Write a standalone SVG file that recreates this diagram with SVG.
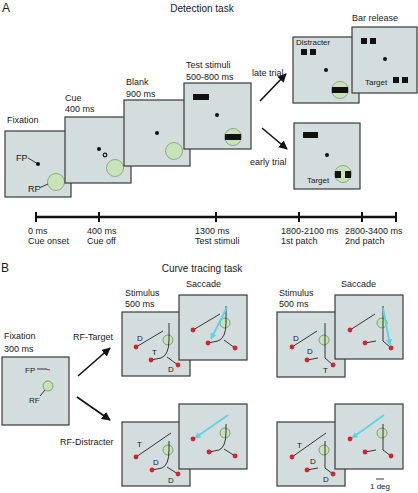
<svg xmlns="http://www.w3.org/2000/svg" width="418" height="493" viewBox="0 0 418 493">
<defs>
<style>
text{font-family:"Liberation Sans",Arial,sans-serif;fill:#1a1a1a}
.lab{font-size:9px}
.sm{font-size:8px}
.ttl{font-size:10px}
.big{font-size:12px}
.pan{fill:#d4dddd;stroke:#3a3a3a;stroke-width:1.2}
.rf{fill:#c9e3b9;stroke:#6f8f6f;stroke-width:0.7}
.rfs{fill:#c9e3b9;stroke:#5f7f5f;stroke-width:0.7}
.blk{fill:#111}
.ln{stroke:#222;stroke-width:0.9;fill:none}
.red{fill:#d62231}
.arr{stroke:#111;stroke-width:1.6;fill:none;marker-end:url(#ah)}
.cy{stroke:#5ad4e4;stroke-width:1.8;fill:none;marker-end:url(#ch)}
.tl{stroke:#111;stroke-width:2.5;fill:none}
.tk{stroke:#111;stroke-width:2;fill:none}
</style>
<marker id="ah" viewBox="0 0 10 10" refX="9" refY="5" markerWidth="5.5" markerHeight="5.5" orient="auto" markerUnits="strokeWidth"><path d="M0,0 L10,5 L0,10 z" fill="#111"/></marker>
<marker id="ch" viewBox="0 0 10 10" refX="9" refY="5" markerWidth="3.5" markerHeight="3.5" orient="auto" markerUnits="strokeWidth"><path d="M0,0 L10,5 L0,10 z" fill="#5ad4e4"/></marker>
</defs>

<text class="big" x="2" y="12">A</text>
<text class="ttl" x="202" y="12" text-anchor="middle">Detection task</text>

<g id="a-fixation">
<text class="lab" x="7" y="123">Fixation</text>
<rect class="pan" x="5" y="131" width="66" height="66"/>
<text class="lab" x="16" y="161">FP</text>
<line class="ln" x1="28" y1="158" x2="38" y2="164"/>
<circle class="blk" cx="38" cy="164" r="2"/>
<circle class="rf" cx="56" cy="182" r="8.5"/>
<text class="lab" x="28" y="192">RF</text>
<line class="ln" x1="39" y1="188" x2="48" y2="184"/>
</g>

<g id="a-cue">
<text class="lab" x="65" y="101">Cue</text>
<text class="lab" x="65" y="112">400 ms</text>
<rect class="pan" x="65" y="117" width="66" height="66"/>
<circle class="blk" cx="99" cy="149" r="2"/>
<circle cx="105" cy="155" r="1.8" fill="none" stroke="#111" stroke-width="1.2"/>
<circle class="rf" cx="115" cy="168" r="8.5"/>
</g>

<g id="a-blank">
<text class="lab" x="126" y="85">Blank</text>
<text class="lab" x="126" y="97">900 ms</text>
<rect class="pan" x="124" y="100" width="66" height="66"/>
<circle class="blk" cx="157" cy="133" r="2"/>
<circle class="rf" cx="174" cy="151" r="8.5"/>
</g>

<g id="a-test">
<text class="lab" x="186" y="68">Test stimuli</text>
<text class="lab" x="186" y="80">500-800 ms</text>
<rect class="pan" x="184" y="83" width="67" height="66"/>
<rect class="blk" x="193" y="94" width="16" height="6"/>
<circle class="blk" cx="217" cy="115" r="2"/>
<circle class="rf" cx="233" cy="137" r="8.5"/>
<rect class="blk" x="225" y="134" width="16" height="6"/>
</g>

<g id="a-late">
<rect class="pan" x="293" y="37" width="66" height="66"/>
<text class="sm" x="296" y="45">Distracter</text>
<rect class="blk" x="301" y="49" width="6" height="6"/>
<rect class="blk" x="310" y="49" width="6" height="6"/>
<circle class="blk" cx="326" cy="70" r="2"/>
<circle class="rf" cx="340" cy="90" r="8.5"/>
<rect class="blk" x="332" y="87" width="16" height="6"/>
</g>

<g id="a-release">
<text class="lab" x="352" y="21">Bar release</text>
<rect class="pan" x="352" y="27" width="65" height="66"/>
<rect class="blk" x="361" y="38" width="6" height="6"/>
<rect class="blk" x="370" y="38" width="6" height="6"/>
<circle class="blk" cx="385" cy="59" r="2"/>
<text class="sm" x="365" y="85">Target</text>
<rect class="blk" x="393" y="77" width="6" height="6"/>
<rect class="blk" x="402" y="77" width="6" height="6"/>
</g>

<g id="a-early">
<rect class="pan" x="294" y="123" width="66" height="66"/>
<rect class="blk" x="303" y="132" width="15" height="6"/>
<circle class="blk" cx="327" cy="155" r="2"/>
<circle class="rf" cx="343" cy="174" r="8.5"/>
<rect class="blk" x="335" y="171" width="6" height="7"/>
<rect class="blk" x="345" y="171" width="6" height="7"/>
<text class="sm" x="307" y="183">Target</text>
</g>

<g id="a-timeline">
<line class="tl" x1="36" y1="217" x2="396" y2="217"/>
<line class="tk" x1="36" y1="212" x2="36" y2="222"/>
<line class="tk" x1="99" y1="212" x2="99" y2="222"/>
<line class="tk" x1="216" y1="212" x2="216" y2="222"/>
<line class="tk" x1="299" y1="212" x2="299" y2="222"/>
<line class="tk" x1="362" y1="212" x2="362" y2="222"/>
<line class="tk" x1="396" y1="212" x2="396" y2="222"/>
<text class="lab" x="28" y="234">0 ms</text>
<text class="lab" x="28" y="244">Cue onset</text>
<text class="lab" x="87" y="234">400 ms</text>
<text class="lab" x="87" y="244">Cue off</text>
<text class="lab" x="195" y="234">1300 ms</text>
<text class="lab" x="195" y="244">Test stimuli</text>
<text class="lab" x="281" y="234">1800-2100 ms</text>
<text class="lab" x="281" y="244">1st patch</text>
<text class="lab" x="345" y="234">2800-3400 ms</text>
<text class="lab" x="345" y="244">2nd patch</text>
</g>

<g id="a-connectors">
<line class="arr" x1="260" y1="101" x2="286" y2="74"/>
<text class="lab" x="252" y="76">late trial</text>
<line class="arr" x1="262" y1="128" x2="287" y2="149"/>
<text class="lab" x="250" y="165">early trial</text>
</g>

<text class="big" x="1" y="272">B</text>
<text class="ttl" x="202" y="272" text-anchor="middle">Curve tracing task</text>

<g id="b-fixation">
<text class="lab" x="4" y="339">Fixation</text>
<text class="lab" x="4" y="352">300 ms</text>
<rect class="pan" x="2" y="357" width="67" height="68"/>
<text class="sm" x="25" y="373">FP</text>
<line class="ln" x1="37" y1="369" x2="47" y2="369"/>
<line x1="47" y1="369.5" x2="50" y2="370" stroke="#d62231" stroke-width="1"/>
<circle class="rfs" cx="48" cy="386" r="5"/>
<text class="sm" x="29" y="403">RF</text>
<line class="ln" x1="40" y1="396" x2="45" y2="390"/>
</g>

<g id="b-connectors">
<line class="arr" x1="78" y1="376" x2="110" y2="348"/>
<text class="lab" x="73" y="340">RF-Target</text>
<line class="arr" x1="77" y1="397" x2="110" y2="420"/>
<text class="lab" x="60" y="445">RF-Distracter</text>
</g>

<g id="b-stim1">
<text class="lab" x="125" y="296">Stimulus</text>
<text class="lab" x="125" y="307">500 ms</text>
<g transform="translate(122,312)">
<rect class="pan" x="0" y="0" width="68" height="64"/>
<line class="ln" x1="14" y1="35" x2="41" y2="19"/>
<circle class="red" cx="14" cy="35" r="2.4"/>
<text class="sm" x="15" y="29">D</text>
<circle class="rfs" cx="46" cy="28" r="5"/>
<path class="ln" d="M29,48 L39,46 Q47,43 47,28 L47,11"/>
<circle class="red" cx="29" cy="48" r="2.4"/>
<text class="sm" x="30" y="43">T</text>
<line class="ln" x1="45" y1="45" x2="56" y2="53"/>
<circle class="red" cx="56" cy="53" r="2.4"/>
<text class="sm" x="46" y="60">D</text>
</g>
</g>

<g id="b-sacc1">
<text class="lab" x="186" y="287">Saccade</text>
<g transform="translate(179,295)">
<rect class="pan" x="0" y="0" width="68" height="65"/>
<line class="ln" x1="14" y1="35" x2="41" y2="19"/>
<circle class="red" cx="14" cy="35" r="2.4"/>
<circle class="rfs" cx="46" cy="28" r="5"/>
<path class="ln" d="M29,48 L39,46 Q47,43 47,28 L47,11"/>
<circle class="red" cx="29" cy="48" r="2.4"/>
<line class="ln" x1="45" y1="45" x2="56" y2="53"/>
<circle class="red" cx="56" cy="53" r="2.4"/>
<line class="cy" x1="48" y1="12" x2="32" y2="44"/>
</g>
</g>

<g id="b-stim2">
<text class="lab" x="279" y="296">Stimulus</text>
<text class="lab" x="279" y="307">500 ms</text>
<g transform="translate(277,312)">
<rect class="pan" x="0" y="0" width="68" height="65"/>
<line class="ln" x1="15" y1="35" x2="40" y2="19"/>
<circle class="red" cx="15" cy="35" r="2.4"/>
<text class="sm" x="16" y="29">D</text>
<circle class="rfs" cx="47" cy="28" r="5"/>
<path class="ln" d="M48,11 L48,46 L56,53"/>
<circle class="red" cx="56" cy="53" r="2.4"/>
<text class="sm" x="46" y="61">T</text>
<line class="ln" x1="30" y1="48" x2="41" y2="46"/>
<circle class="red" cx="30" cy="48" r="2.4"/>
<text class="sm" x="30" y="42">D</text>
</g>
</g>

<g id="b-sacc2">
<text class="lab" x="341" y="287">Saccade</text>
<g transform="translate(335,295)">
<rect class="pan" x="0" y="0" width="68" height="64"/>
<line class="ln" x1="15" y1="35" x2="40" y2="19"/>
<circle class="red" cx="15" cy="35" r="2.4"/>
<circle class="rfs" cx="47" cy="28" r="5"/>
<path class="ln" d="M48,11 L48,46 L56,53"/>
<circle class="red" cx="56" cy="53" r="2.4"/>
<line class="ln" x1="30" y1="48" x2="41" y2="46"/>
<circle class="red" cx="30" cy="48" r="2.4"/>
<line class="cy" x1="48" y1="13" x2="55" y2="50"/>
</g>
</g>

<g id="b-stim3">
<g transform="translate(122,422)">
<rect class="pan" x="0" y="0" width="68" height="64"/>
<line class="ln" x1="14" y1="35" x2="49" y2="11"/>
<circle class="red" cx="14" cy="35" r="2.4"/>
<text class="sm" x="15" y="25">T</text>
<circle class="rfs" cx="46" cy="28" r="5"/>
<path class="ln" d="M30,48 L40,46 Q47,43 47,28 L47,19"/>
<circle class="red" cx="30" cy="48" r="2.4"/>
<text class="sm" x="31" y="43">D</text>
<line class="ln" x1="45" y1="45" x2="56" y2="52"/>
<circle class="red" cx="56" cy="52" r="2.4"/>
<text class="sm" x="46" y="61">D</text>
</g>
</g>

<g id="b-sacc3">
<g transform="translate(179,404)">
<rect class="pan" x="0" y="0" width="68" height="65"/>
<circle class="rfs" cx="46" cy="29" r="5"/>
<path class="ln" d="M30,48 L40,46 Q47,43 47,28 L47,20"/>
<circle class="red" cx="30" cy="48" r="2.4"/>
<line class="ln" x1="45" y1="45" x2="56" y2="52"/>
<circle class="red" cx="56" cy="52" r="2.4"/>
<line class="cy" x1="49" y1="11" x2="16" y2="34"/>
<circle class="red" cx="14" cy="35" r="2.4"/>
</g>
</g>

<g id="b-stim4">
<g transform="translate(277,422)">
<rect class="pan" x="0" y="0" width="68" height="64"/>
<line class="ln" x1="15" y1="35" x2="49" y2="11"/>
<circle class="red" cx="15" cy="35" r="2.4"/>
<text class="sm" x="20" y="26">T</text>
<circle class="rfs" cx="47" cy="28" r="5"/>
<path class="ln" d="M48,19 L48,46 L56,52"/>
<circle class="red" cx="56" cy="52" r="2.4"/>
<text class="sm" x="46" y="60">D</text>
<line class="ln" x1="30" y1="48" x2="41" y2="46"/>
<circle class="red" cx="30" cy="48" r="2.4"/>
<text class="sm" x="33" y="42">D</text>
</g>
</g>

<g id="b-sacc4">
<g transform="translate(335,404)">
<rect class="pan" x="0" y="0" width="68" height="65"/>
<circle class="rfs" cx="47" cy="29" r="5"/>
<path class="ln" d="M48,20 L48,46 L56,52"/>
<circle class="red" cx="56" cy="52" r="2.4"/>
<line class="ln" x1="30" y1="48" x2="41" y2="46"/>
<circle class="red" cx="30" cy="48" r="2.4"/>
<line class="cy" x1="49" y1="11" x2="17" y2="34"/>
<circle class="red" cx="15" cy="35" r="2.4"/>
</g>
</g>

<g id="b-scale">
<line x1="376" y1="479" x2="384" y2="479" stroke="#222" stroke-width="0.9"/>
<text class="sm" x="380" y="489" text-anchor="middle">1 deg</text>
</g>
</svg>
